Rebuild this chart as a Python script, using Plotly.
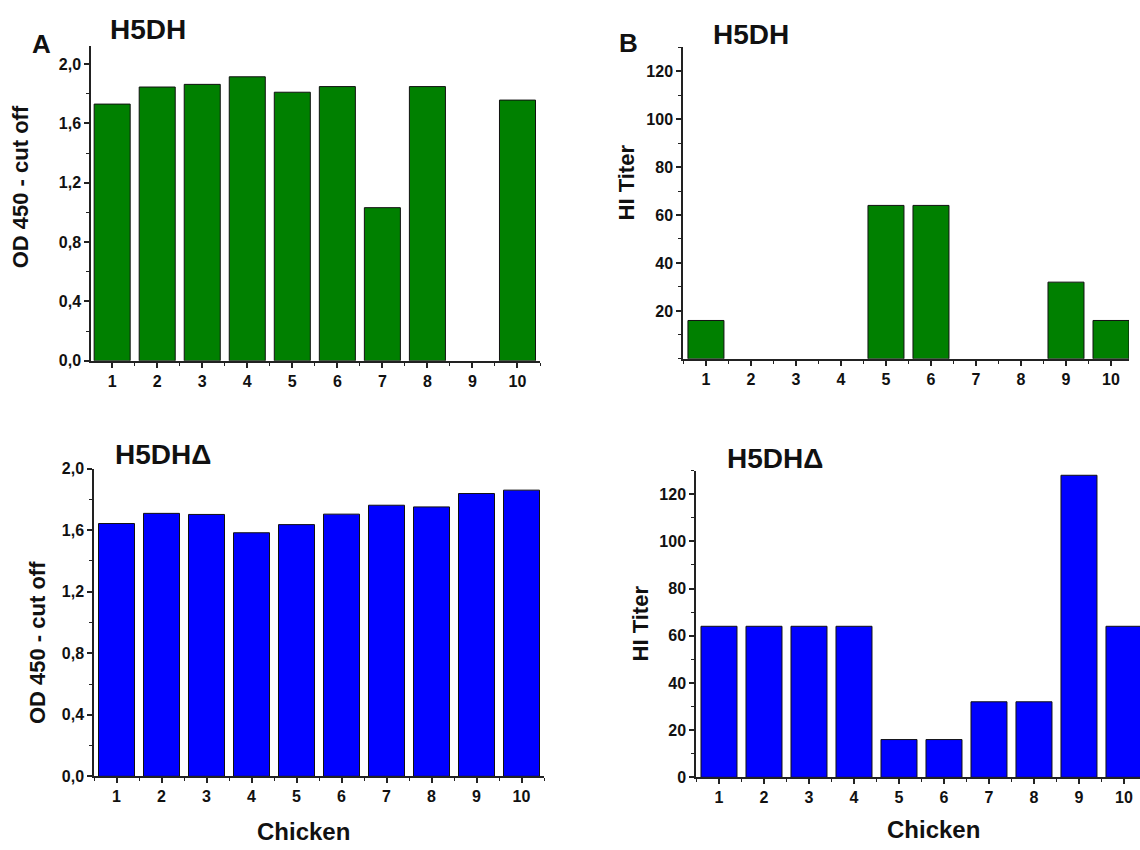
import plotly.graph_objects as go

W, H = 1140, 850

chickens = [1, 2, 3, 4, 5, 6, 7, 8, 9, 10]
od_h5dh = [1.73, 1.845, 1.863, 1.914, 1.81, 1.848, 1.032, 1.848, 0.0, 1.757]
od_h5dh_delta = [1.643, 1.709, 1.702, 1.583, 1.636, 1.704, 1.762, 1.751, 1.838, 1.860]
hi_h5dh = [16, 0, 0, 0, 64, 64, 0, 0, 32, 16]
hi_h5dh_delta = [64, 64, 64, 64, 16, 16, 32, 32, 128, 64]

od_ticks = [0.0, 0.4, 0.8, 1.2, 1.6, 2.0]
od_ticktext = ["0,0", "0,4", "0,8", "1,2", "1,6", "2,0"]
hi_ticks_top = [20, 40, 60, 80, 100, 120]
hi_ticks_bottom = [0, 20, 40, 60, 80, 100, 120]

GREEN = "#008000"
BLUE = "#0000FF"
FONT = "Liberation Sans"
TICK_SIZE = 16


def px_x(a, b):
    return [a / W, b / W]


def px_y(top, bottom):
    return [1 - bottom / H, 1 - top / H]


fig = go.Figure()

panels = [
    ("x", "y", od_h5dh, GREEN, px_x(91, 540), px_y(39, 360), [0.53, 10.5], [0, 2.12], od_ticks, od_ticktext, 0.2),
    ("x2", "y2", hi_h5dh, GREEN, px_x(683, 1129), px_y(40, 358), [0.49, 10.4], [0, 130], hi_ticks_top, [str(v) for v in hi_ticks_top], 10),
    ("x3", "y3", od_h5dh_delta, BLUE, px_x(94, 544), px_y(470, 784), [0.5, 10.5], [0, 2.0], od_ticks, od_ticktext, 0.2),
    ("x4", "y4", hi_h5dh_delta, BLUE, px_x(696, 1140), px_y(472, 785), [0.489, 10.356], [0, 130], hi_ticks_bottom, [str(v) for v in hi_ticks_bottom], 10),
]

layout_axes = {}
for xa, ya, vals, color, xd, yd, xr, yr, yt, ytt, ymin in panels:
    fig.add_trace(go.Bar(
        x=chickens, y=vals, xaxis=xa, yaxis=ya,
        marker=dict(color=color,
                    line=dict(color="#111111", width=[1 if v > 0 else 0 for v in vals])),
        width=0.8, showlegend=False,
    ))
    xkey = "xaxis" + xa[1:]
    ykey = "yaxis" + ya[1:]
    layout_axes[xkey] = dict(
        domain=xd, range=xr, anchor=ya,
        tickmode="array", tickvals=chickens, ticktext=[str(c) for c in chickens],
        ticks="outside", ticklen=5, tickwidth=1.5, tickcolor="#222",
        showline=True, linecolor="#222", linewidth=1.5,
        showgrid=False, zeroline=False, fixedrange=True,
        tickfont=dict(family=FONT, size=TICK_SIZE, color="#111", weight="bold"),
        minor=dict(tickmode="array", tickvals=[c + 0.5 for c in [0] + chickens],
                   ticks="outside", ticklen=3, tickwidth=1.2, tickcolor="#222", showgrid=False),
    )
    minor_vals = []
    v = 0.0
    while v <= yr[1] + 1e-9:
        minor_vals.append(round(v, 4))
        v += ymin
    layout_axes[ykey] = dict(
        domain=yd, range=yr, anchor=xa,
        tickmode="array", tickvals=yt, ticktext=ytt,
        ticks="outside", ticklen=5, tickwidth=1.5, tickcolor="#222",
        showline=True, linecolor="#222", linewidth=1.5,
        showgrid=False, zeroline=False, fixedrange=True,
        tickfont=dict(family=FONT, size=TICK_SIZE, color="#111", weight="bold"),
        minor=dict(tickmode="array", tickvals=minor_vals,
                   ticks="outside", ticklen=3, tickwidth=1.2, tickcolor="#222", showgrid=False),
    )

annotations = []


def ann(text, x, y, size, angle=0):
    annotations.append(dict(
        text=text, x=x / W, y=1 - y / H, xref="paper", yref="paper",
        xanchor="center", yanchor="middle", showarrow=False, textangle=angle,
        font=dict(family=FONT, size=size, color="#111", weight="bold"),
    ))


ann("A", 42, 37, 26)
ann("B", 628, 36, 26)
ann("H5DH", 148, 22, 28)
ann("H5DH", 751, 27, 28)
ann("H5DHΔ", 163, 456, 28)
ann("H5DHΔ", 775, 460, 28)
ann("OD 450 - cut off", 20, 183, 22, -90)
ann("OD 450 - cut off", 37, 647, 22, -90)
ann("HI Titer", 626, 178, 22, -90)
ann("HI Titer", 640, 628, 22, -90)
ann("Chicken", 303, 840, 24)
ann("Chicken", 933, 838, 24)

fig.update_layout(
    width=W, height=H,
    margin=dict(l=0, r=0, t=0, b=0),
    paper_bgcolor="white", plot_bgcolor="white",
    annotations=annotations,
    bargap=0.2,
    **layout_axes,
)

fig.write_html(
    "out.html",
    config={"displayModeBar": False},
    post_script="document.body.style.margin='0';document.body.style.overflow='hidden';",
)
